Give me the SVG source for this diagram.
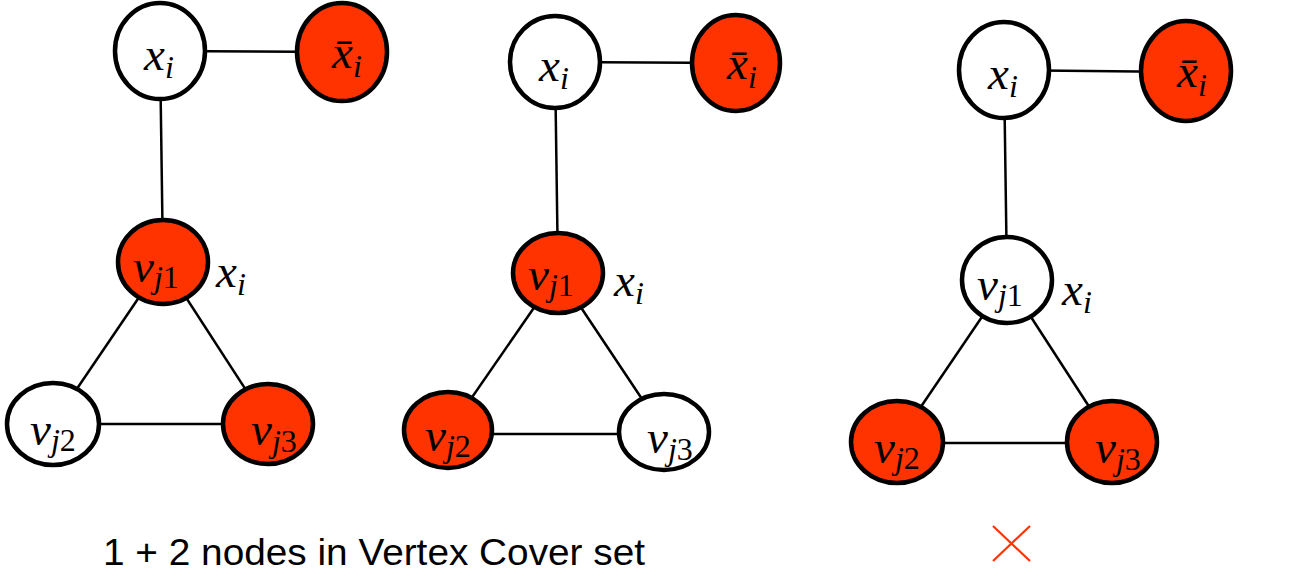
<svg xmlns="http://www.w3.org/2000/svg" width="1296" height="582" viewBox="0 0 1296 582">
<style>
.nd{stroke:#000;stroke-width:4.5}
.w{fill:#fff}
.r{fill:#ff3300}
.e{stroke:#000;stroke-width:2.5;fill:none}
.m{font-family:"Liberation Serif","DejaVu Serif",serif;font-style:italic;font-size:47px;fill:#000}
.s{font-size:32px}
.n{font-size:32px;font-style:normal}
.cap{font-family:"Liberation Sans",Arial,sans-serif;font-size:36px;fill:#000}
</style>
<rect width="1296" height="582" fill="#fff"/>
<g id="connectors">
<line class="e" x1="160" y1="51" x2="342" y2="52"/>
<line class="e" x1="160" y1="51" x2="163" y2="262"/>
<line class="e" x1="163" y1="262" x2="53" y2="424"/>
<line class="e" x1="163" y1="262" x2="268" y2="424"/>
<line class="e" x1="53" y1="424" x2="268" y2="424"/>
<line class="e" x1="555" y1="62" x2="736" y2="63"/>
<line class="e" x1="555" y1="62" x2="558" y2="273"/>
<line class="e" x1="558" y1="273" x2="448" y2="432"/>
<line class="e" x1="558" y1="273" x2="664" y2="432"/>
<line class="e" x1="448" y1="434" x2="664" y2="434"/>
<line class="e" x1="1004" y1="70" x2="1186" y2="72"/>
<line class="e" x1="1004" y1="70" x2="1007" y2="280"/>
<line class="e" x1="1007" y1="280" x2="897" y2="442"/>
<line class="e" x1="1007" y1="280" x2="1112" y2="442"/>
<line class="e" x1="897" y1="443" x2="1112" y2="443"/>
</g>
<g id="g1-xi"><ellipse class="nd w" cx="160" cy="51" rx="45" ry="48"/><text class="m" x="144" y="70">x<tspan class="s" dy="8">i</tspan></text></g>
<g id="g1-xbar"><ellipse class="nd r" cx="342" cy="52" rx="45" ry="49"/><text class="m" x="332" y="68">x&#x304;<tspan class="s" dy="9">i</tspan></text></g>
<g id="g1-vj1"><ellipse class="nd r" cx="163" cy="262" rx="45" ry="42"/><text class="m" x="133" y="282">v<tspan class="s" dy="6">j</tspan><tspan class="n">1</tspan></text></g>
<g id="g1-lbl"><text class="m" x="216" y="287">x<tspan class="s" dy="8">i</tspan></text></g>
<g id="g1-vj2"><ellipse class="nd w" cx="53" cy="424" rx="46" ry="41"/><text class="m" x="30" y="445">v<tspan class="s" dy="6">j</tspan><tspan class="n">2</tspan></text></g>
<g id="g1-vj3"><ellipse class="nd r" cx="268" cy="424" rx="45" ry="40"/><text class="m" x="251" y="445">v<tspan class="s" dy="7">j</tspan><tspan class="n">3</tspan></text></g>

<g id="g2-xi"><ellipse class="nd w" cx="555" cy="62" rx="45" ry="46"/><text class="m" x="539" y="81">x<tspan class="s" dy="8">i</tspan></text></g>
<g id="g2-xbar"><ellipse class="nd r" cx="736" cy="63" rx="44" ry="48"/><text class="m" x="727" y="79">x&#x304;<tspan class="s" dy="9">i</tspan></text></g>
<g id="g2-vj1"><ellipse class="nd r" cx="558" cy="273" rx="45" ry="40"/><text class="m" x="528" y="290">v<tspan class="s" dy="6">j</tspan><tspan class="n">1</tspan></text></g>
<g id="g2-lbl"><text class="m" x="614" y="296">x<tspan class="s" dy="8">i</tspan></text></g>
<g id="g2-vj2"><ellipse class="nd r" cx="448" cy="430" rx="44" ry="38"/><text class="m" x="425" y="451">v<tspan class="s" dy="6">j</tspan><tspan class="n">2</tspan></text></g>
<g id="g2-vj3"><ellipse class="nd w" cx="664" cy="432" rx="45" ry="38"/><text class="m" x="647" y="453">v<tspan class="s" dy="7">j</tspan><tspan class="n">3</tspan></text></g>

<g id="g3-xi"><ellipse class="nd w" cx="1004" cy="70" rx="45" ry="48"/><text class="m" x="988" y="89">x<tspan class="s" dy="8">i</tspan></text></g>
<g id="g3-xbar"><ellipse class="nd r" cx="1186" cy="71" rx="45" ry="50"/><text class="m" x="1177" y="87">x&#x304;<tspan class="s" dy="9">i</tspan></text></g>
<g id="g3-vj1"><ellipse class="nd w" cx="1007" cy="280" rx="45" ry="43"/><text class="m" x="977" y="300">v<tspan class="s" dy="6">j</tspan><tspan class="n">1</tspan></text></g>
<g id="g3-lbl"><text class="m" x="1062" y="305">x<tspan class="s" dy="8">i</tspan></text></g>
<g id="g3-vj2"><ellipse class="nd r" cx="897" cy="442" rx="46" ry="41"/><text class="m" x="874" y="463">v<tspan class="s" dy="6">j</tspan><tspan class="n">2</tspan></text></g>
<g id="g3-vj3"><ellipse class="nd r" cx="1112" cy="442" rx="45" ry="41"/><text class="m" x="1095" y="463">v<tspan class="s" dy="7">j</tspan><tspan class="n">3</tspan></text></g>

<g id="caption"><text class="cap" x="103" y="565" textLength="542" lengthAdjust="spacingAndGlyphs">1 + 2 nodes in Vertex Cover set</text></g>
<g id="cross" stroke="#ff3300" stroke-width="2.2"><line x1="993" y1="526" x2="1030" y2="561"/><line x1="1030" y1="526" x2="993" y2="561"/></g>
</svg>
